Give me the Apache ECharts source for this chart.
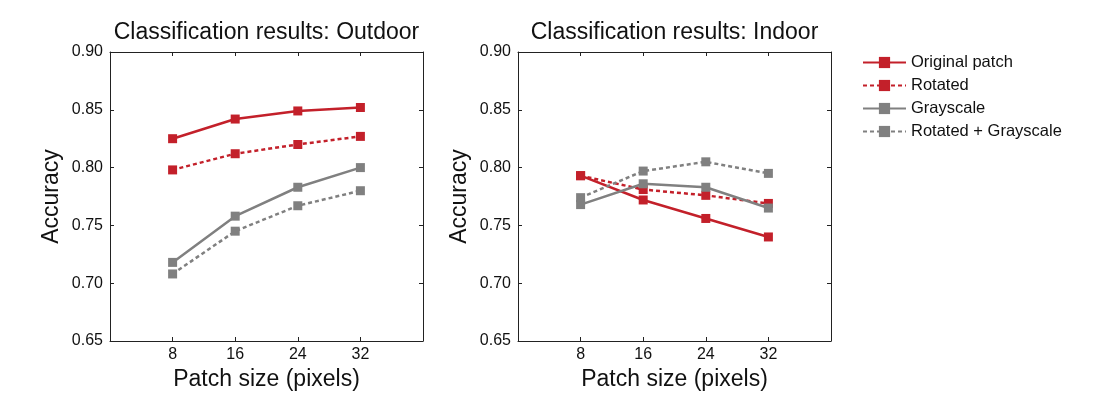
<!DOCTYPE html>
<html>
<head>
<meta charset="utf-8">
<script src="https://cdn.jsdelivr.net/npm/echarts@6/dist/echarts.min.js"></script>
<style>html,body{margin:0;padding:0;background:#fff}#c{width:1108px;height:396px}</style>
</head>
<body>
<div id="c"></div>
<script>
// ---- data ----
const patchSizes = [8, 16, 24, 32];
const xTicks = [8, 16, 24, 32];
const yTicks = [0.65, 0.70, 0.75, 0.80, 0.85, 0.90];
const seriesNames = ['Original patch', 'Rotated', 'Grayscale', 'Rotated + Grayscale'];
const outdoorOriginal = [0.825, 0.842, 0.849, 0.852];
const outdoorRotated  = [0.798, 0.812, 0.820, 0.827];
const outdoorGray     = [0.718, 0.758, 0.783, 0.800];
const outdoorRotGray  = [0.708, 0.745, 0.767, 0.780];
const indoorOriginal  = [0.793, 0.772, 0.756, 0.740];
const indoorRotated   = [0.793, 0.781, 0.776, 0.769];
const indoorGray      = [0.768, 0.786, 0.783, 0.765];
const indoorRotGray   = [0.774, 0.797, 0.805, 0.795];
const titles = ['Classification results: Outdoor', 'Classification results: Indoor'];

const RED = '#c3202a', GRAY = '#808080';
const FONT = 'Liberation Sans';
const AXC = '#222';

const grids = [
  {left: 110, top: 52, width: 313, height: 290},
  {left: 518, top: 52, width: 313, height: 290}
];

function xAx(g, pos) {
  const main = pos === 'bottom';
  return {
    type: 'value', gridIndex: g, position: pos, min: 0, max: 40, interval: 8,
    name: main ? 'Patch size (pixels)' : '', nameLocation: 'middle', nameGap: 27,
    nameTextStyle: {fontFamily: FONT, fontSize: 23, color: '#111'},
    axisLine: {show: true, onZero: false, lineStyle: {color: AXC, width: 1}},
    axisTick: {show: true, inside: true, length: 4, lineStyle: {color: AXC},
      customValues: xTicks},
    axisLabel: {show: main, margin: 6, fontFamily: FONT, fontSize: 16, color: '#111',
      customValues: xTicks,
      formatter: v => (xTicks.indexOf(v) >= 0 ? String(v) : '')},
    splitLine: {show: false}
  };
}
function yAx(g, pos) {
  const main = pos === 'left';
  return {
    type: 'value', gridIndex: g, position: pos, min: 0.65, max: 0.90, interval: 0.05,
    name: main ? 'Accuracy' : '', nameLocation: 'middle', nameGap: 47,
    nameTextStyle: {fontFamily: FONT, fontSize: 23, color: '#111'},
    axisLine: {show: true, onZero: false, lineStyle: {color: AXC, width: 1}},
    axisTick: {show: true, inside: true, length: 4, lineStyle: {color: AXC}},
    axisLabel: {show: main, margin: 7, fontFamily: FONT, fontSize: 16, color: '#111',
      formatter: v => v.toFixed(2)},
    splitLine: {show: false}
  };
}

const xAxes = [xAx(0, 'bottom'), xAx(1, 'bottom'), xAx(0, 'top'), xAx(1, 'top')];
const yAxes = [yAx(0, 'left'), yAx(1, 'left'), yAx(0, 'right'), yAx(1, 'right')];

const styles = [
  {color: RED, type: 'solid'},
  {color: RED, type: [4, 3]},
  {color: GRAY, type: 'solid'},
  {color: GRAY, type: [4, 3]}
];
const outdoor = [outdoorOriginal, outdoorRotated, outdoorGray, outdoorRotGray];
const indoor = [indoorOriginal, indoorRotated, indoorGray, indoorRotGray];

const series = [];
[outdoor, indoor].forEach((set, g) => {
  set.forEach((vals, i) => {
    series.push({
      name: seriesNames[i], type: 'line', xAxisIndex: g, yAxisIndex: g,
      data: patchSizes.map((x, k) => [x, vals[k]]),
      symbol: 'rect', symbolSize: 9, showSymbol: true,
      lineStyle: {color: styles[i].color, width: 2.5, type: styles[i].type},
      itemStyle: {color: styles[i].color},
      emphasis: {disabled: true}, animation: false, z: 2 + i
    });
  });
});

const chart = echarts.init(document.getElementById('c'), null, {renderer: 'canvas'});
chart.setOption({
  backgroundColor: '#fff',
  animation: false,
  title: titles.map((t, i) => ({
    text: t, left: grids[i].left + grids[i].width / 2 - 5, top: 16, textAlign: 'center',
    textStyle: {fontFamily: FONT, fontSize: 23, fontWeight: 'normal', color: '#111'}
  })),
  legend: {
    data: seriesNames, orient: 'vertical', left: 862, top: 54, padding: 0,
    itemWidth: 43, itemHeight: 14, itemGap: 6,
    textStyle: {fontFamily: FONT, fontSize: 16.5, color: '#111'}
  },
  grid: grids,
  xAxis: xAxes,
  yAxis: yAxes,
  series: series
});
</script>
</body>
</html>
